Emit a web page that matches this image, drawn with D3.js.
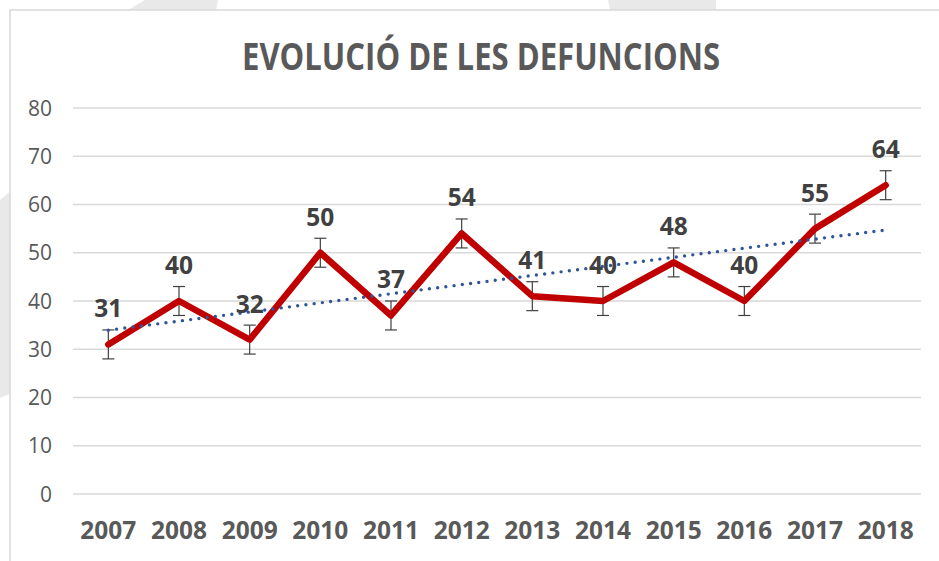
<!DOCTYPE html>
<html>
<head>
<meta charset="utf-8">
<script src="https://cdn.jsdelivr.net/npm/d3@7"></script>
<style>
  body { margin: 0; background: #fff; }
  svg { display: block; font-family: "Open Sans", sans-serif; }
</style>
</head>
<body>
<script>
const years = ["2007", "2008", "2009", "2010", "2011", "2012", "2013", "2014", "2015", "2016", "2017", "2018"];
const deaths = [31, 40, 32, 50, 37, 54, 41, 40, 48, 40, 55, 64];
const errorAmount = 3;
const yTicks = [0, 10, 20, 30, 40, 50, 60, 70, 80];
const title = "EVOLUCIÓ DE LES DEFUNCIONS";

const W = 939, H = 561;
const margin = { top: 108, right: 18, bottom: 67, left: 73 },
      width = W - margin.left - margin.right,
      height = H - margin.top - margin.bottom;

const svg = d3.select("body").append("svg")
    .attr("width", W)
    .attr("height", H);

// faint background shapes behind the chart frame
const bg = svg.append("g").attr("fill", "#e9e9e9");
bg.append("path").attr("d", "M100,22 L128,10 L145,0 L218,0 L214,22 Z");
bg.append("path").attr("d", "M608,0 L716,0 L716,20 L612,20 Z");
bg.append("path").attr("d", "M0,200 L14,188 L14,392 L0,398 Z");

// chart frame
svg.append("rect")
    .attr("x", 10).attr("y", 10)
    .attr("width", 960).attr("height", 600)
    .attr("fill", "#fff")
    .attr("stroke", "#d9d9d9")
    .attr("stroke-width", 1.5);

const g = svg.append("g")
    .attr("transform", `translate(${margin.left},${margin.top})`);

const x = d3.scaleBand().domain(years).range([0, width]);
const y = d3.scaleLinear().domain([0, 80]).range([height, 0]);
const cx = d => x(d) + x.bandwidth() / 2;

// gridlines
g.append("g").selectAll("line")
    .data(yTicks)
    .join("line")
    .attr("x1", 0).attr("x2", width)
    .attr("y1", d => y(d)).attr("y2", d => y(d))
    .attr("stroke", "#d9d9d9")
    .attr("stroke-width", 1.3);

// y labels
g.append("g").selectAll("text")
    .data(yTicks)
    .join("text")
    .attr("x", -21)
    .attr("y", d => y(d))
    .attr("dy", "0.36em")
    .attr("text-anchor", "end")
    .style("font-size", "21px")
    .style("fill", "#595959")
    .text(d => d);

// x labels
g.append("g").selectAll("text")
    .data(years)
    .join("text")
    .attr("x", d => cx(d))
    .attr("y", height + 45)
    .attr("text-anchor", "middle")
    .style("font-size", "24.5px")
    .style("font-weight", "bold")
    .style("fill", "#595959")
    .text(d => d);

const pts = years.map((yr, i) => ({ year: yr, value: deaths[i] }));

// error bars
const eb = g.append("g").attr("stroke", "#404040").attr("stroke-width", 1.2);
pts.forEach(p => {
    const px = cx(p.year);
    eb.append("line").attr("x1", px).attr("x2", px)
        .attr("y1", y(p.value - errorAmount)).attr("y2", y(p.value + errorAmount));
    [p.value - errorAmount, p.value + errorAmount].forEach(v => {
        eb.append("line").attr("x1", px - 6).attr("x2", px + 6)
            .attr("y1", y(v)).attr("y2", y(v));
    });
});

// main line
g.append("path")
    .datum(pts)
    .attr("fill", "none")
    .attr("stroke", "#c00000")
    .attr("stroke-width", 6.5)
    .attr("stroke-linejoin", "round")
    .attr("stroke-linecap", "round")
    .attr("d", d3.line().x(d => cx(d.year)).y(d => y(d.value)));

// linear trend line
const n = deaths.length;
const mx = d3.mean(deaths, (d, i) => i), my = d3.mean(deaths);
const slope = d3.sum(deaths, (d, i) => (i - mx) * (d - my)) / d3.sum(deaths, (d, i) => (i - mx) ** 2);
const icpt = my - slope * mx;
g.append("path")
    .datum([0, n - 1])
    .attr("fill", "none")
    .attr("stroke", "#2f5597")
    .attr("stroke-width", 3.4)
    .attr("stroke-linecap", "round")
    .attr("stroke-dasharray", "0 8.3")
    .attr("d", d3.line().x(i => cx(years[i])).y(i => y(icpt + slope * i)));

// data labels
g.append("g").selectAll("text")
    .data(pts)
    .join("text")
    .attr("x", d => cx(d.year))
    .attr("y", d => y(d.value) - 27)
    .attr("text-anchor", "middle")
    .style("font-size", "24.5px")
    .style("font-weight", "bold")
    .style("fill", "#404040")
    .text(d => d.value);

// title
svg.append("text")
    .attr("x", 481)
    .attr("y", 70)
    .attr("text-anchor", "middle")
    .attr("textLength", 478)
    .attr("lengthAdjust", "spacingAndGlyphs")
    .style("font-size", "37px")
    .style("font-weight", "bold")
    .style("fill", "#595959")
    .text(title);
</script>
</body>
</html>
